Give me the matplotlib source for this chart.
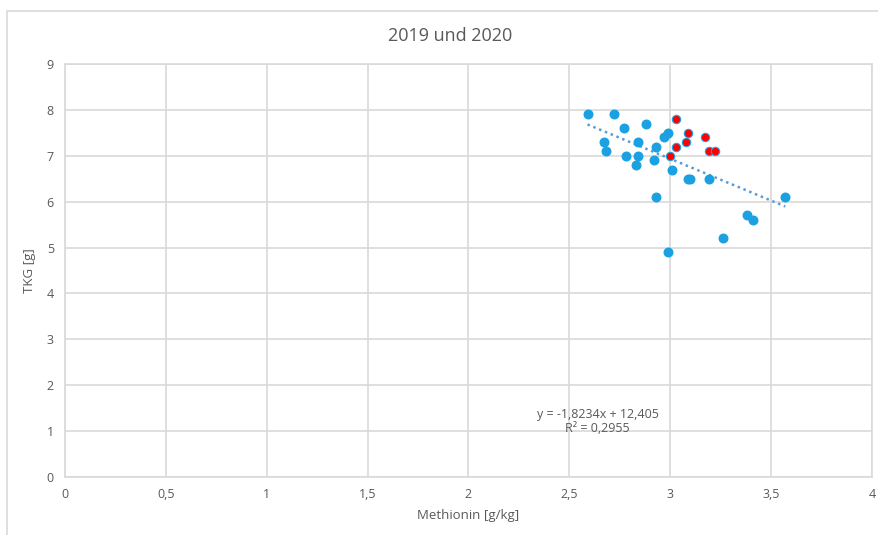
import numpy as np
import matplotlib.pyplot as plt
from matplotlib.patches import Rectangle

plt.rcParams['font.family'] = ['Open Sans', 'DejaVu Sans']

# Methionin [g/kg] vs TKG [g]
met_blue = [2.59, 2.72, 2.77, 2.88, 2.67, 2.68, 2.78, 2.84, 2.84, 2.83, 2.93, 2.92,
            2.97, 2.99, 3.01, 3.09, 3.10, 3.19, 2.93, 3.57, 3.38, 3.41, 3.26, 2.99]
tkg_blue = [7.9, 7.9, 7.6, 7.7, 7.3, 7.1, 7.0, 7.3, 7.0, 6.8, 7.2, 6.9,
            7.4, 7.5, 6.7, 6.5, 6.5, 6.5, 6.1, 6.1, 5.7, 5.6, 5.2, 4.9]
met_red = [3.03, 3.09, 3.08, 3.03, 3.17, 3.19, 3.22, 3.00]
tkg_red = [7.8, 7.5, 7.3, 7.2, 7.4, 7.1, 7.1, 7.0]

# trendline from the label
slope = -1.8234
intercept = 12.405
eq_text = 'y = -1,8234x + 12,405\nR² = 0,2955'

grey = '#595959'
gridc = '#d9d9d9'

fig = plt.figure(figsize=(8.79, 5.35), dpi=100)
ax = fig.add_axes([65/879, 1-477/535, (872-65)/879, (477-64)/535])

fig.patches.append(Rectangle((7/879, -0.1), 1.2, 1 - 11/535 + 0.1, transform=fig.transFigure,
                             fill=False, edgecolor=gridc, linewidth=1.2))

ax.scatter(met_blue, tkg_blue, s=38, color='#1ba1e2', edgecolors='#1ba1e2', zorder=3)
ax.scatter(met_red, tkg_red, s=36, color='#ff0000', edgecolors='#1ba1e2', linewidths=0.8, zorder=4)

allx = np.array(met_blue + met_red)
xs = np.array([allx.min(), allx.max()])
ax.plot(xs, slope*xs + intercept, linestyle=(0, (1, 1.5)), color='#5b9bd5', linewidth=1.8, zorder=2)

ax.text(2.64, 1.2, eq_text, ha='center', va='center', fontsize=9, color=grey, linespacing=1.1)

ax.set_xlim(0, 4)
ax.set_ylim(0, 9)
xt = [0, 0.5, 1, 1.5, 2, 2.5, 3, 3.5, 4]
ax.set_xticks(xt)
ax.set_xticklabels([str(v).replace('.', ',') if v % 1 else str(int(v)) for v in xt])
ax.set_yticks(range(10))
ax.grid(True, color=gridc, linewidth=1.2)
ax.set_axisbelow(True)
for sp in ax.spines.values():
    sp.set_color(gridc)
    sp.set_linewidth(1.2)
ax.tick_params(length=0, colors=grey, labelsize=9, pad=8)

ax.set_xlabel('Methionin [g/kg]', fontsize=9.5, color=grey, labelpad=6)
ax.set_ylabel('TKG [g]', fontsize=9.5, color=grey, labelpad=8)
fig.text(450/879, 1-36/535, '2019 und 2020', ha='center', va='center', fontsize=13, color=grey)

fig.savefig('out.png', dpi=100)
